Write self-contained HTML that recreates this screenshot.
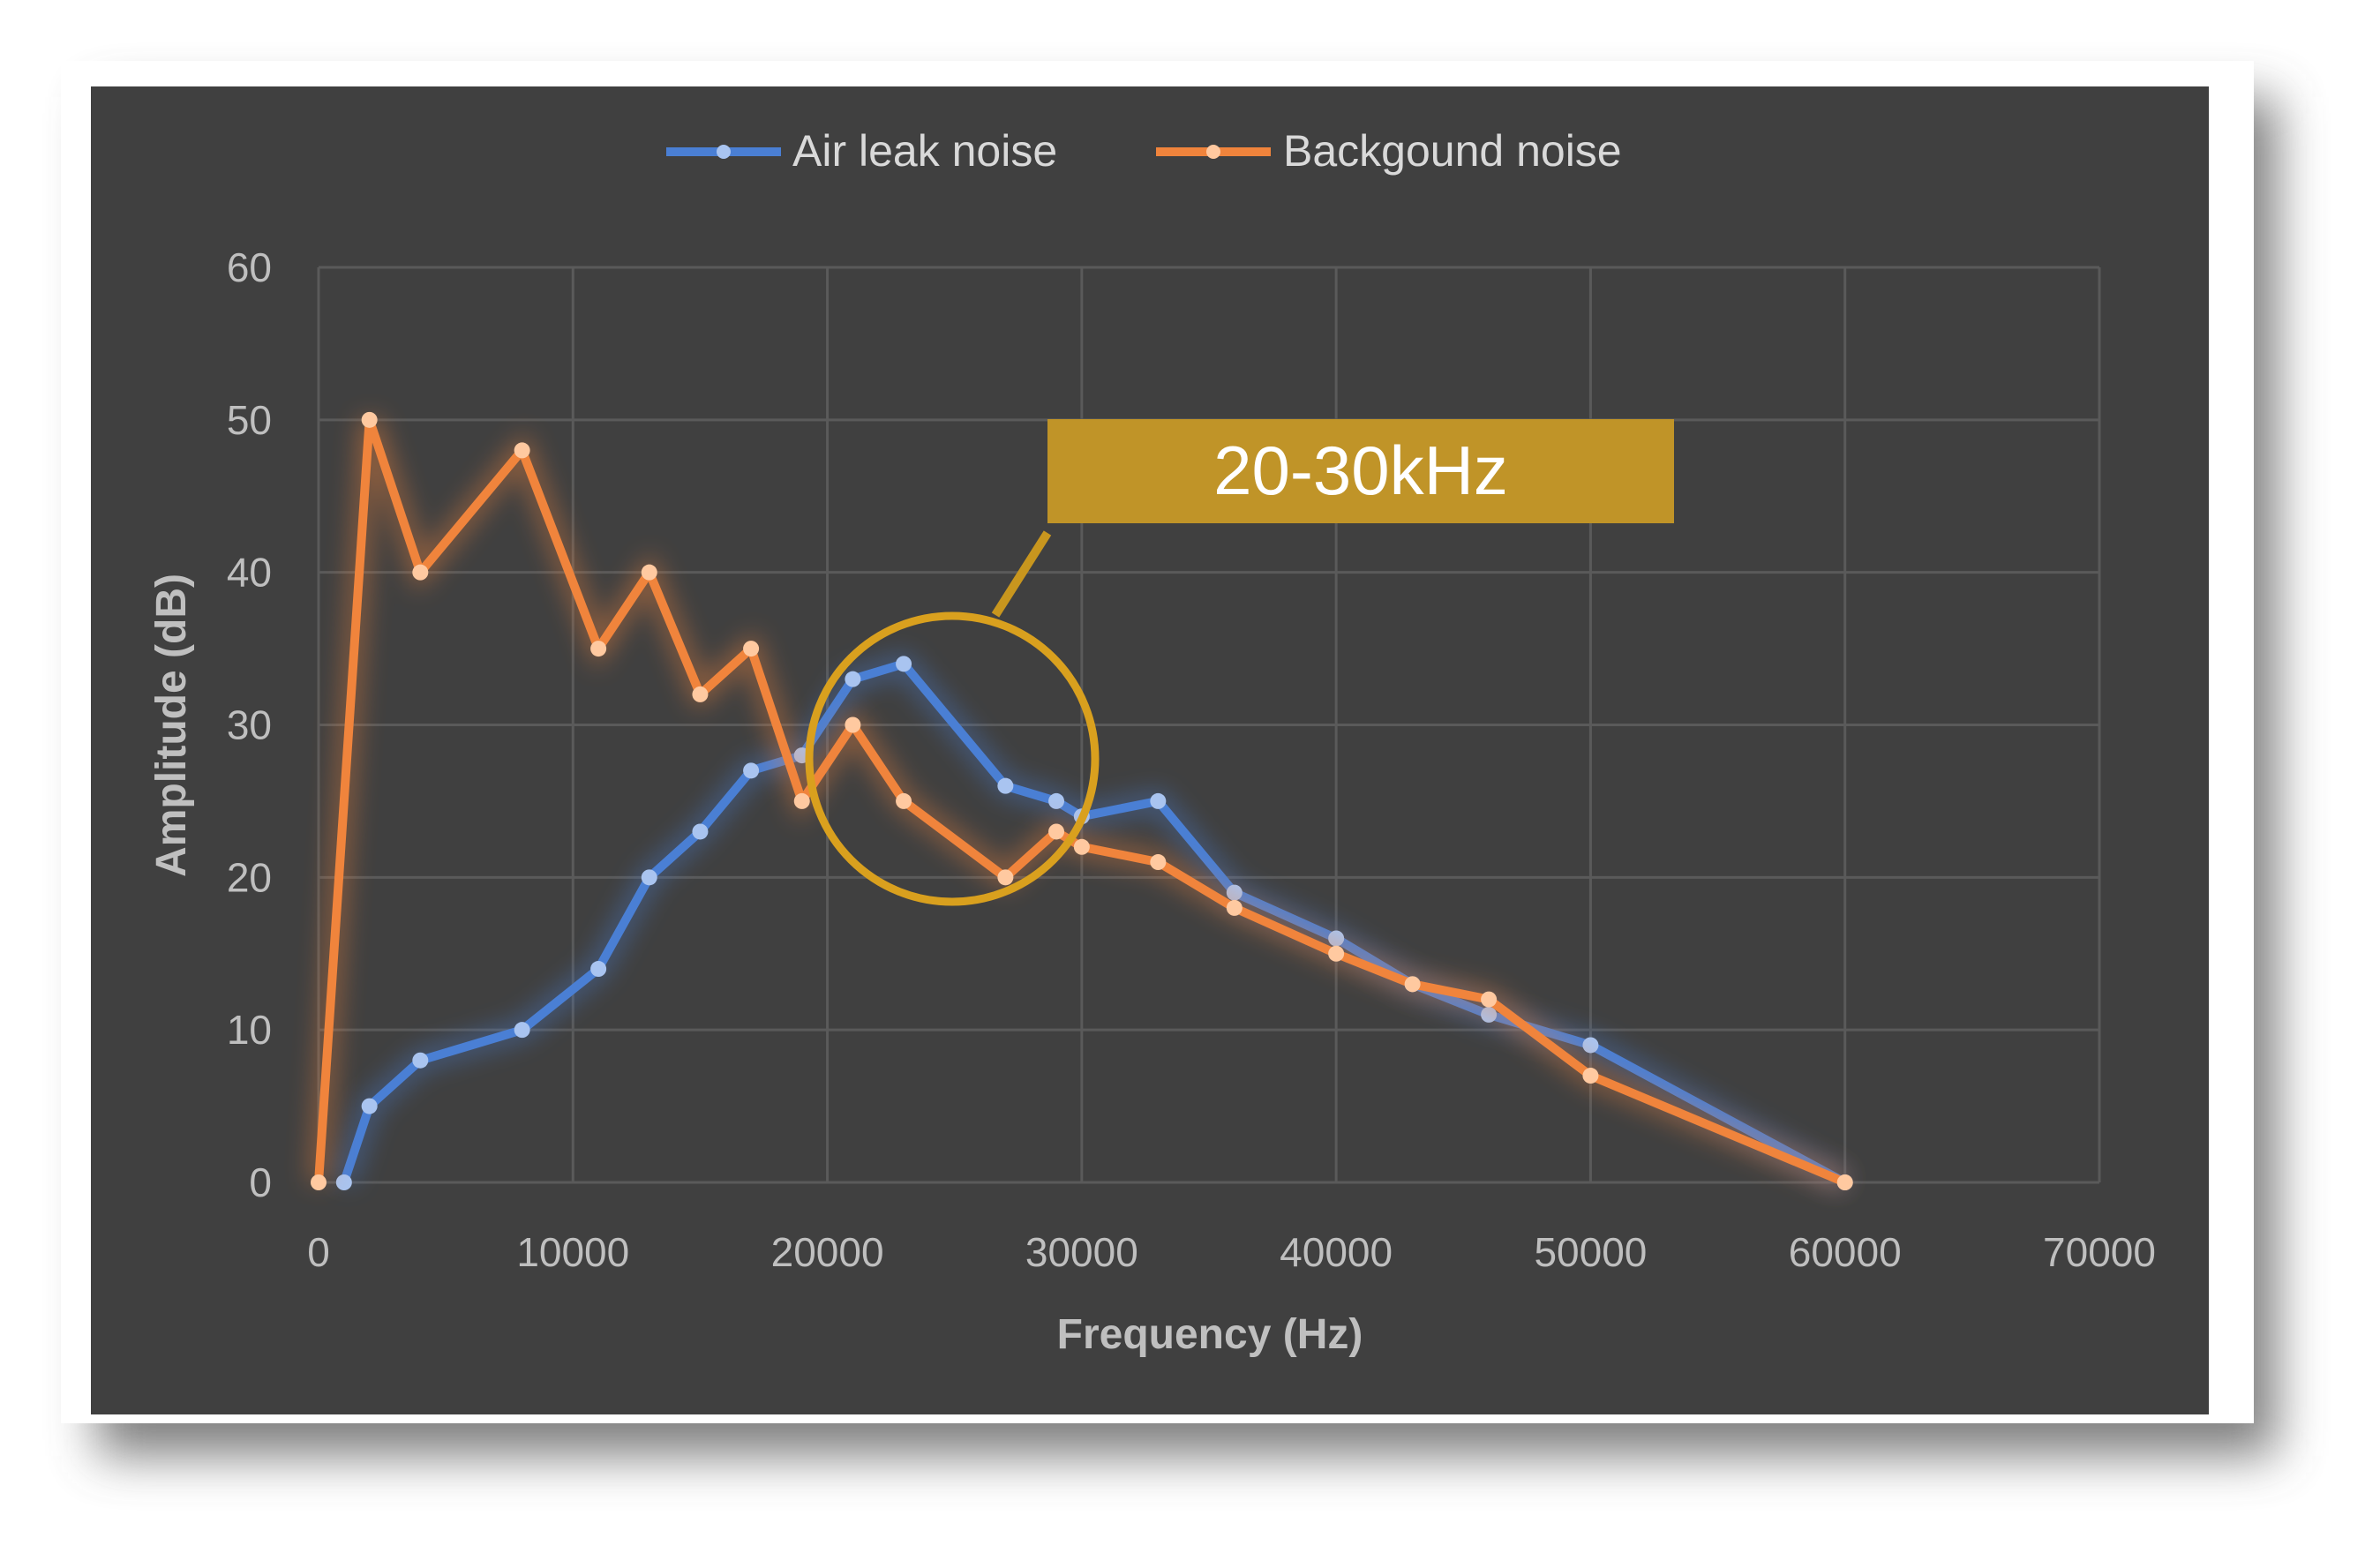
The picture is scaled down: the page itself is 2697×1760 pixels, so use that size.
<!DOCTYPE html>
<html><head><meta charset="utf-8"><style>
body{margin:0;width:2697px;height:1755px;background:#fff;overflow:hidden;font-family:"Liberation Sans",sans-serif}
</style></head><body>
<svg width="2697" height="1755" xmlns="http://www.w3.org/2000/svg">
<defs>
<filter id="shadow" x="-10%" y="-10%" width="130%" height="130%"><feGaussianBlur stdDeviation="28"/></filter>
<filter id="glow" x="-20%" y="-20%" width="140%" height="140%"><feGaussianBlur stdDeviation="14"/></filter>
</defs>
<rect x="110" y="110" width="2470" height="1540" fill="#555" opacity="0.75" filter="url(#shadow)"/>
<rect x="69" y="69" width="2485" height="1544" fill="#fff"/>
<rect x="103" y="98" width="2400" height="1505" fill="#404040"/>
<g id="grid"></g>
<g id="ticks" font-size="46" fill="#bfbfbf"></g>
<text x="1371" y="1528" font-size="48" font-weight="bold" fill="#bfbfbf" text-anchor="middle">Frequency (Hz)</text>
<text transform="translate(210,822) rotate(-90)" font-size="48" font-weight="bold" fill="#bfbfbf" text-anchor="middle">Amplitude (dB)</text>
<g id="series"></g>
<g>
<g>
<line x1="755" y1="172" x2="885" y2="172" stroke="#4a7fd4" stroke-width="10"/><circle cx="820" cy="172" r="8" fill="#a9c4f0"/>
<text x="898" y="188" font-size="50" fill="#d9d9d9">Air leak noise</text></g>
<g>
<line x1="1310" y1="172" x2="1440" y2="172" stroke="#f0843c" stroke-width="10"/><circle cx="1375" cy="172" r="8" fill="#ffc9a0"/>
<text x="1454" y="188" font-size="50" fill="#d9d9d9">Backgound noise</text></g>
</g>
<circle cx="1079" cy="860" r="162" fill="none" stroke="#d9a01e" stroke-width="9"/>
<line x1="1187" y1="604" x2="1128" y2="697" stroke="#c8961e" stroke-width="10"/>
<rect x="1187" y="475" width="710" height="118" fill="#c09428"/>
<text x="1542" y="560" font-size="78" fill="#fff" text-anchor="middle">20-30kHz</text>
</svg>
<script>
const xTicks=[0,10000,20000,30000,40000,50000,60000,70000];
const yTicks=[0,10,20,30,40,50,60];
const airX=[1000,2000,4000,8000,11000,13000,15000,17000,19000,21000,23000,27000,29000,30000,33000,36000,40000,43000,46000,50000,60000];
const airY=[0,5,8,10,14,20,23,27,28,33,34,26,25,24,25,19,16,13,11,9,0];
const bgX=[0,2000,4000,8000,11000,13000,15000,17000,19000,21000,23000,27000,29000,30000,33000,36000,40000,43000,46000,50000,60000];
const bgY=[0,50,40,48,35,40,32,35,25,30,25,20,23,22,21,18,15,13,12,7,0];
const NS='http://www.w3.org/2000/svg';
const X=v=>361+(v/70000)*(2379-361);
const Y=v=>1340-(v/60)*(1340-303);
function mk(t,a,p){const e=document.createElementNS(NS,t);for(const k in a)e.setAttribute(k,a[k]);p.appendChild(e);return e;}
const grid=document.getElementById('grid'),ticks=document.getElementById('ticks'),series=document.getElementById('series');
xTicks.forEach(v=>{const l=mk('line',{x1:X(v),x2:X(v),y1:Y(60),y2:Y(0),stroke:'#5a5a5a','stroke-width':3},grid);


const t=mk('text',{x:X(v),y:1435,'text-anchor':'middle'},ticks);t.textContent=v;

});
yTicks.forEach(v=>{const l=mk('line',{x1:X(0),x2:X(70000),y1:Y(v),y2:Y(v),stroke:'#5a5a5a','stroke-width':3},grid);


const t=mk('text',{x:308,y:Y(v)+16,'text-anchor':'end'},ticks);t.textContent=v;

});
function draw(xs,ys,col,pt,name){
const pts=xs.map((x,i)=>X(x)+','+Y(ys[i])).join(' ');
const g=mk('polyline',{points:pts,fill:'none',stroke:col,'stroke-width':22,opacity:0.45,filter:'url(#glow)'},series);


const l=mk('polyline',{points:pts,fill:'none',stroke:col,'stroke-width':10,'stroke-linejoin':'round'},series);


xs.forEach((x,i)=>{const c=mk('circle',{cx:X(x),cy:Y(ys[i]),r:9,fill:pt},series);

});
}
draw(airX,airY,'#4a7fd4','#a9c4f0','air-leak');
draw(bgX,bgY,'#f0843c','#ffc9a0','background');
</script>
</body></html>
